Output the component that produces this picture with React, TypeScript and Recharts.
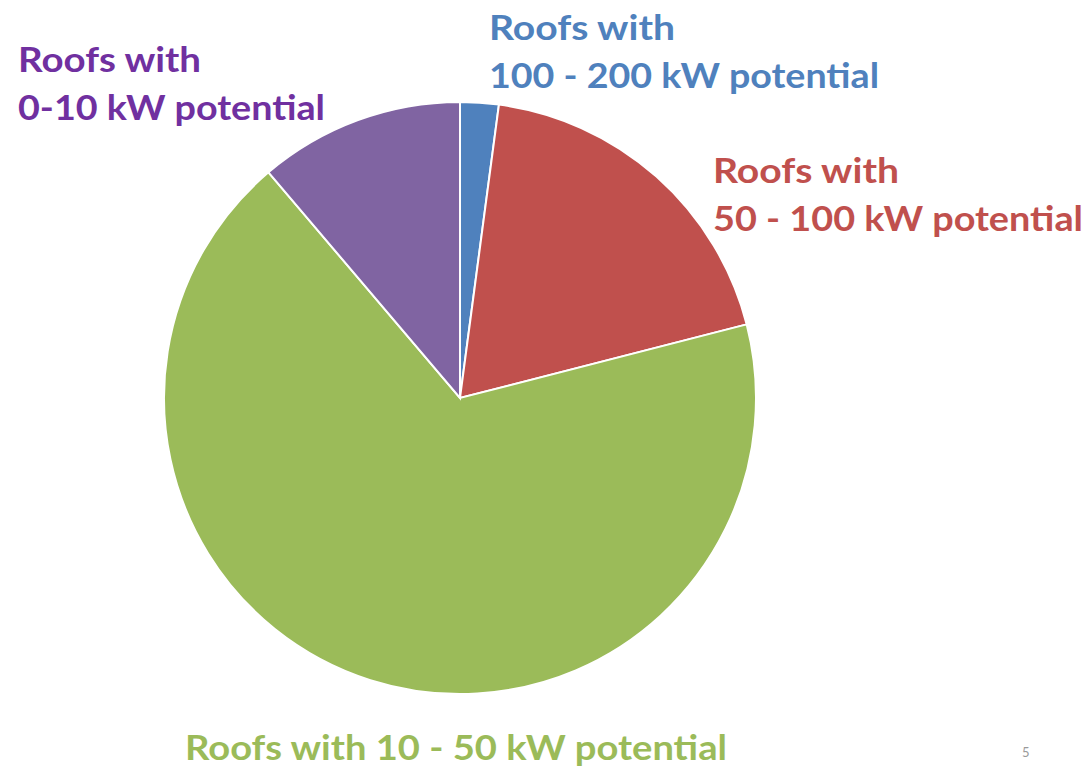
import { Cell, Pie, PieChart } from "recharts"

const categories = [
  "Roofs with 100 - 200 kW potential",
  "Roofs with 50 - 100 kW potential",
  "Roofs with 10 - 50 kW potential",
  "Roofs with 0-10 kW potential",
]
const shares = [2.1, 18.9, 67.8, 11.2]
const sliceColors = ["#4F81BD", "#C0504D", "#9BBB59", "#8064A2"]
const labelColors = ["#4F81BD", "#C0504D", "#9BBB59", "#7030A0"]

const data = categories.map((name, i) => ({ name, value: shares[i] }))

// label placement, one entry per slice: lines, x, first baseline
const labelLines = [
  ["Roofs with", "100 - 200 kW potential"],
  ["Roofs with", "50 - 100 kW potential"],
  ["Roofs with 10 - 50 kW potential"],
  ["Roofs with", "0-10 kW potential"],
]
const labelPos = [
  { x: 489, y: 40, w: [186, 390] },
  { x: 713, y: 183, w: [186, 370] },
  { x: 185, y: 760, w: [542] },
  { x: 18, y: 72, w: [183, 307] },
]

const renderLabel = (props: any) => {
  const i = props.index
  const pos = labelPos[i]
  return (
    <g key={`lbl-${i}`}>
      {labelLines[i].map((line, j) => (
        <text
          key={j}
          x={pos.x}
          y={pos.y + j * 48}
          fill={labelColors[i]}
          fontFamily="Lato, 'Open Sans', sans-serif"
          fontWeight={700}
          fontSize={34}
          textLength={pos.w[j]}
          lengthAdjust="spacingAndGlyphs"
        >
          {line}
        </text>
      ))}
    </g>
  )
}

export default function App() {
  return (
    <div style={{ position: "absolute", left: 0, top: 0, background: "#fff" }}>
      <PieChart width={1089} height={770} margin={{ top: 0, right: 0, bottom: 0, left: 0 }}>
        <Pie
          data={data}
          dataKey="value"
          nameKey="name"
          cx={460}
          cy={398}
          outerRadius={296}
          startAngle={90}
          endAngle={-270}
          stroke="#ffffff"
          strokeWidth={2}
          label={renderLabel}
          labelLine={false}
          isAnimationActive={false}
        >
          {data.map((d, i) => (
            <Cell key={d.name} fill={sliceColors[i]} />
          ))}
        </Pie>
        <text x={1022} y={757} fill="#9a9a9a" fontSize={13} fontFamily="Lato, sans-serif">
          5
        </text>
      </PieChart>
    </div>
  )
}
